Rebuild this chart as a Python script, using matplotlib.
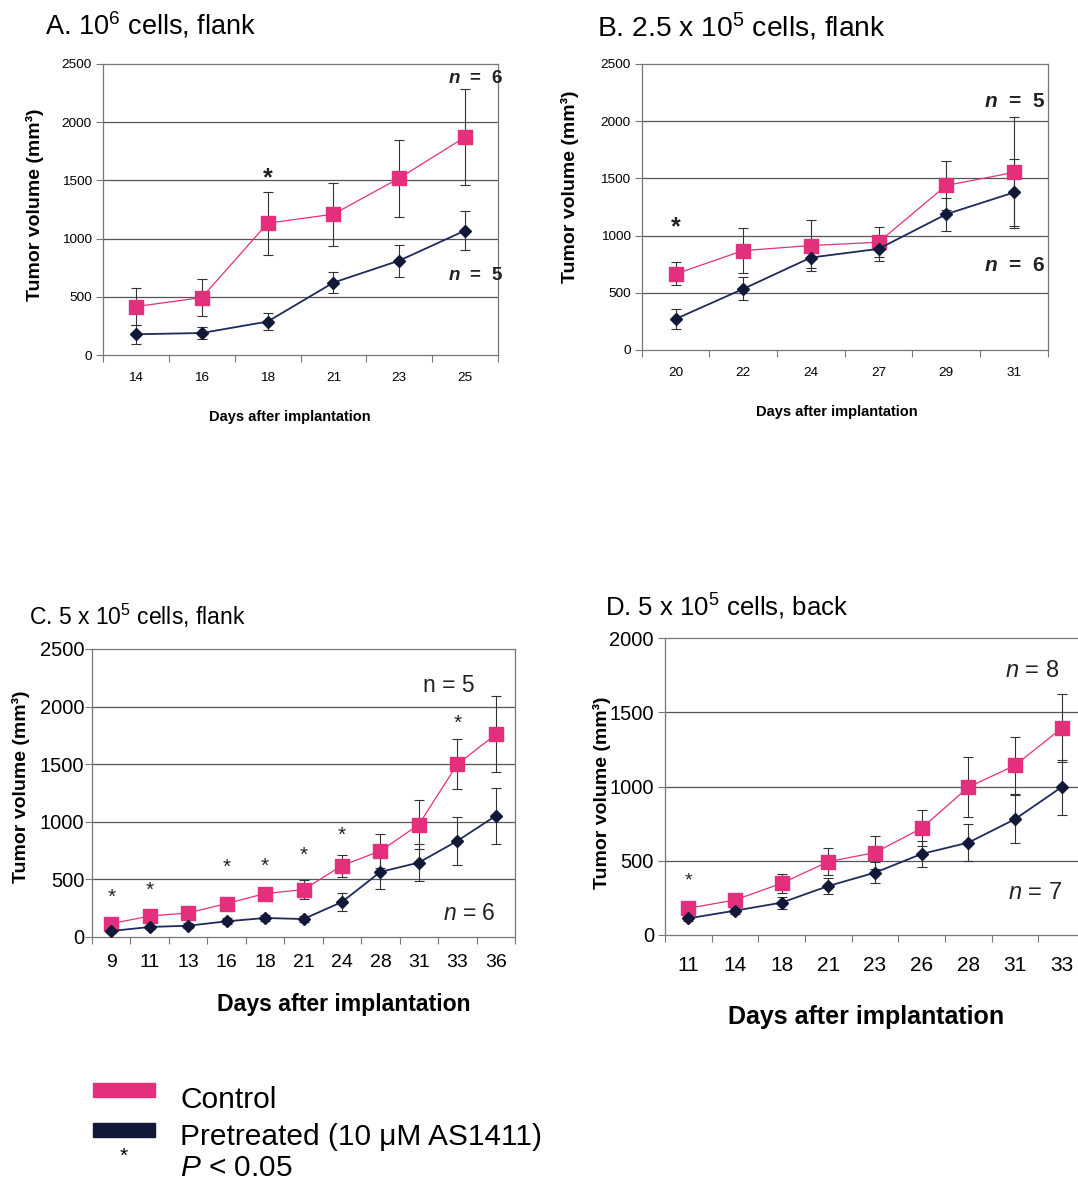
import matplotlib
matplotlib.use("Agg")
import matplotlib.pyplot as plt
from matplotlib.patches import Rectangle

plt.rcParams['font.family'] = ['Liberation Sans', 'DejaVu Sans']
plt.rcParams['mathtext.fontset'] = 'custom'
plt.rcParams['mathtext.rm'] = 'Liberation Sans'
plt.rcParams['mathtext.it'] = 'Liberation Sans:italic'
plt.rcParams['mathtext.bf'] = 'Liberation Sans:bold'
plt.rcParams['mathtext.bfit'] = 'Liberation Sans:italic:bold'

CONTROL_COLOR = '#E4307C'
PRETREATED_COLOR = '#111838'
PRETREATED_LINE = '#1E2A5C'
GRID_COLOR = '#555555'
SPINE_COLOR = '#777777'
ERR_COLOR = '#333333'
TEXT_COLOR = '#222222'

# ---- Panel A: 10^6 cells, flank ----
days_a = ['14', '16', '18', '21', '23', '25']
control_a = [416, 493, 1132, 1210, 1519, 1872]
control_err_a = [157, 160, 270, 270, 330, 410]
pre_a = [178, 189, 287, 622, 811, 1069]
pre_err_a = [80, 55, 75, 88, 137, 168]
stars_a = ['18']
star_y_a = [1568]

# ---- Panel B: 2.5 x 10^5 cells, flank ----
days_b = ['20', '22', '24', '27', '29', '31']
control_b = [665, 869, 913, 942, 1438, 1552]
control_err_b = [100, 200, 220, 130, 215, 485]
pre_b = [271, 534, 808, 884, 1187, 1377]
pre_err_b = [85, 100, 90, 110, 145, 290]
stars_b = ['20']
star_y_b = [1123]

# ---- Panel C: 5 x 10^5 cells, flank ----
days_c = ['9', '11', '13', '16', '18', '21', '24', '28', '31', '33', '36']
control_c = [116, 182, 209, 290, 377, 411, 620, 747, 976, 1500, 1758]
control_err_c = [25, 25, 25, 30, 35, 80, 95, 145, 210, 215, 330]
pre_c = [52, 87, 98, 136, 165, 156, 304, 565, 646, 834, 1052]
pre_err_c = [15, 15, 20, 25, 30, 30, 82, 150, 158, 210, 245]
stars_c = ['9', '11', '16', '18', '21', '24', '33']
star_y_c = [391, 449, 652, 661, 753, 927, 1897]

# ---- Panel D: 5 x 10^5 cells, back ----
days_d = ['11', '14', '18', '21', '23', '26', '28', '31', '33']
control_d = [180, 236, 348, 494, 555, 719, 996, 1142, 1393]
control_err_d = [25, 30, 65, 90, 110, 120, 200, 190, 230]
pre_d = [112, 164, 218, 330, 420, 546, 622, 780, 996]
pre_err_d = [15, 20, 40, 55, 72, 90, 125, 160, 185]
stars_d = ['11']
star_y_d = [398]

W, H = 1078, 1188
fig = plt.figure(figsize=(W / 100, H / 100), dpi=100)


def draw_panel(rect, days, ctrl, ctrl_err, pre, pre_err, ymax, xtick_fs,
               ytick_fs, lab_fs, xlab_fs, ylab_pos, xlab_pos, tick_pad,
               msq, mdia, ypad=3):
    ax = fig.add_axes(rect)
    x = list(range(len(days)))
    ax.errorbar(x, ctrl, yerr=ctrl_err, fmt='none', ecolor=ERR_COLOR,
                elinewidth=0.8, capsize=3.8, capthick=0.8, zorder=3)
    ax.errorbar(x, pre, yerr=pre_err, fmt='none', ecolor=ERR_COLOR,
                elinewidth=0.8, capsize=3.8, capthick=0.8, zorder=3)
    ax.plot(x, ctrl, color=CONTROL_COLOR, lw=0.9, marker='s', ms=msq,
            mfc=CONTROL_COLOR, mec=CONTROL_COLOR, zorder=4)
    ax.plot(x, pre, color=PRETREATED_LINE, lw=1.3, marker='D', ms=mdia,
            mfc=PRETREATED_COLOR, mec=PRETREATED_COLOR, zorder=5)
    ax.set_xlim(-0.5, len(days) - 0.5)
    ax.set_ylim(0, ymax)
    ax.set_yticks(range(0, ymax + 1, 500))
    for v in range(500, ymax, 500):
        ax.axhline(v, color=GRID_COLOR, lw=0.9, zorder=1)
    # category boundaries carry the tick marks, centres carry the labels
    ax.set_xticks([i - 0.5 for i in range(len(days) + 1)])
    ax.set_xticklabels([])
    ax.set_xticks(x, minor=True)
    ax.set_xticklabels(days, minor=True)
    ax.tick_params(axis='x', which='major', direction='out', length=5,
                   width=0.8, color=SPINE_COLOR)
    ax.tick_params(axis='x', which='minor', length=0, pad=tick_pad,
                   labelsize=xtick_fs)
    ax.tick_params(axis='y', direction='out', length=5, width=0.8,
                   color=SPINE_COLOR, labelsize=ytick_fs, pad=ypad)
    for s in ax.spines.values():
        s.set_color(SPINE_COLOR)
        s.set_linewidth(0.9)
    ax.text(ylab_pos[0], ylab_pos[1], 'Tumor volume (mm³)',
            transform=ax.transAxes, rotation=90, ha='center', va='center',
            fontsize=lab_fs, fontweight='bold')
    ax.text(xlab_pos[0], xlab_pos[1], 'Days after implantation',
            transform=ax.transAxes, ha='center', va='center',
            fontsize=xlab_fs, fontweight='bold')
    return ax


def add_stars(ax, days, stars, ys, fs, weight='normal'):
    # the asterisk glyph sits high in its line box; pull it down so its
    # centre lands on the given value
    for d, y in zip(stars, ys):
        ax.annotate('*', (days.index(d), y), xytext=(0, -0.24 * fs),
                    textcoords='offset points', ha='center', va='center',
                    fontsize=fs, fontweight=weight, color=TEXT_COLOR,
                    zorder=6)


def n_label(ax, xfrac, y, label, fs, bold=False):
    ax.text(xfrac, y, label, transform=ax.get_yaxis_transform(),
            ha='right', va='center', fontsize=fs,
            fontweight='bold' if bold else 'normal', color=TEXT_COLOR)


axA = draw_panel([103 / W, 1 - 355 / H, 395 / W, 291 / H], days_a, control_a,
                 control_err_a, pre_a, pre_err_a, 2500, 9.7, 9.7, 14, 10.5,
                 (-0.172, 0.515), (0.473, -0.213), 12, 10, 6.6)
add_stars(axA, days_a, stars_a, star_y_a, 18, 'bold')
n_label(axA, 1.013, 2374, r'$\mathbfit{n}$  =  6', 13.5, bold=True)
n_label(axA, 1.013, 680, r'$\mathbfit{n}$  =  5', 13.5, bold=True)

axB = draw_panel([641.7 / W, 1 - 350 / H, 406 / W, 286 / H], days_b,
                 control_b, control_err_b, pre_b, pre_err_b, 2500, 9.7, 9.7,
                 14, 10.5, (-0.176, 0.57), (0.48, -0.216), 12, 10, 6.6)
add_stars(axB, days_b, stars_b, star_y_b, 18, 'bold')
n_label(axB, 0.993, 2173, r'$\mathbfit{n}$  =  5', 15, bold=True)
n_label(axB, 0.993, 738, r'$\mathbfit{n}$  =  6', 15, bold=True)

axC = draw_panel([92 / W, 1 - 937 / H, 423 / W, 288 / H], days_c, control_c,
                 control_err_c, pre_c, pre_err_c, 2500, 14, 14.5, 14, 16.6,
                 (-0.169, 0.52), (0.596, -0.236), 12, 10, 6.2, ypad=0.5)
add_stars(axC, days_c, stars_c, star_y_c, 15)
n_label(axC, 0.905, 2187, 'n = 5', 16.5)
n_label(axC, 0.953, 203, r'$n$ = 6', 16.5)

axD = draw_panel([665 / W, 1 - 935 / H, 420 / W, 297 / H], days_d, control_d,
                 control_err_d, pre_d, pre_err_d, 2000, 15, 14.5, 14, 18,
                 (-0.151, 0.48), (0.479, -0.276), 15, 10, 6.2)
add_stars(axD, days_d, stars_d, star_y_d, 14)
n_label(axD, 0.938, 1780, r'$n$ = 8', 17)
n_label(axD, 0.945, 281, r'$n$ = 7', 17)

# panel titles
fig.text(45 / W, 1 - 25 / H, r'A. 10$^6$ cells, flank', fontsize=19.5,
         va='center', ha='left')
fig.text(597 / W, 1 - 27 / H, r'B. 2.5 x 10$^5$ cells, flank',
         fontsize=20.3, va='center', ha='left')
fig.text(29 / W, 1 - 616 / H, r'C. 5 x 10$^5$ cells, flank',
         fontsize=16.5, va='center', ha='left')
fig.text(605 / W, 1 - 607 / H, r'D. 5 x 10$^5$ cells, back',
         fontsize=18.5, va='center', ha='left')

# legend
fig.patches.append(Rectangle((93 / W, 1 - 1097 / H), 62 / W, 14 / H,
                             transform=fig.transFigure, color=CONTROL_COLOR))
fig.patches.append(Rectangle((93 / W, 1 - 1137 / H), 62 / W, 14 / H,
                             transform=fig.transFigure, color=PRETREATED_COLOR))
fig.text(124 / W, 1 - 1156 / H, '*', fontsize=15, ha='center', va='center')
fig.text(180 / W, 1 - 1100 / H, 'Control', fontsize=21.5, va='center')
fig.text(180 / W, 1 - 1137 / H, 'Pretreated (10 μM AS1411)', fontsize=21.5,
         va='center')
fig.text(180 / W, 1 - 1168 / H, r'$P$ < 0.05', fontsize=21.5, va='center')

fig.savefig('out.png', dpi=100)
